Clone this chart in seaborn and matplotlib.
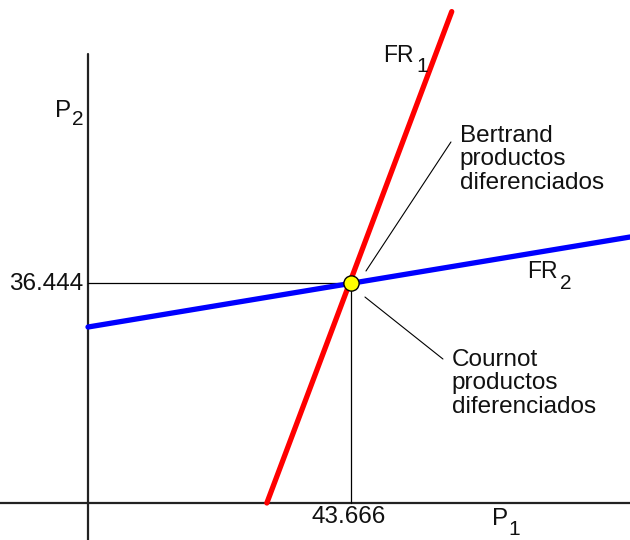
import matplotlib
matplotlib.use("Agg")
import matplotlib.pyplot as plt
import seaborn as sns
import pandas as pd

# reaction functions (P1, P2) end points
fr1_p1 = [29.7, 60.4]
fr1_p2 = [0.0, 81.4]
fr2_p1 = [0.0, 90.0]
fr2_p2 = [29.15, 44.06]

# equilibrium
p1_eq = 43.666
p2_eq = 36.444

sns.set_style("white")
plt.rcParams['font.family'] = ['Liberation Sans', 'DejaVu Sans']

fig = plt.figure(figsize=(6.3, 5.4), dpi=100)
ax = fig.add_axes([0, 0, 1, 1])
ax.set_xlim(-14.61, 90.0)
ax.set_ylim(-6.13, 83.32)
ax.axis('off')

# axes drawn as lines
ax.plot([0, 0], [-6.13, 74.4], color='#222222', lw=1.6)
ax.plot([-14.61, 90.0], [0, 0], color='#222222', lw=1.6)

# guide lines to the equilibrium
ax.plot([0, p1_eq], [p2_eq, p2_eq], color='black', lw=0.9)
ax.plot([p1_eq, p1_eq], [0, p2_eq], color='black', lw=0.9)

df1 = pd.DataFrame({"P1": fr1_p1, "P2": fr1_p2})
df2 = pd.DataFrame({"P1": fr2_p1, "P2": fr2_p2})
sns.lineplot(data=df1, x="P1", y="P2", color='#ff0000', lw=3.8, ax=ax,
             sort=False, estimator=None)
sns.lineplot(data=df2, x="P1", y="P2", color='#0000ff', lw=3.8, ax=ax,
             sort=False, estimator=None)

# annotation pointers
ax.plot([60.27, 46.16], [59.80, 38.43], color='black', lw=0.8)
ax.plot([45.99, 58.94], [34.12, 23.85], color='black', lw=0.8)

sns.scatterplot(x=[p1_eq], y=[p2_eq], s=120, color='#ffff00',
                edgecolor='black', linewidth=1, zorder=5, ax=ax)

fs = 17.5
ink = '#111111'


def label(x, y, base, sx, sy, sub, size):
    ax.text(x, y, base, fontsize=size, ha='left', va='baseline', color=ink)
    ax.text(sx, sy, sub, fontsize=15, ha='left', va='baseline', color=ink)


# px -> data: x = (px - 88) * 0.16603, y = (503 - py) * 0.16565
label(-5.48, 63.9, 'P', -2.6, 62.6, '2', fs)
label(67.08, -3.64, 'P', 69.8, -5.3, '1', fs)
label(48.98, 73.05, 'FR', 54.5, 71.4, '1', 16.5)
label(72.89, 37.27, 'FR', 78.4, 35.5, '2', 16.5)

ax.text(-0.83, 36.3, '36.444', fontsize=fs, ha='right', va='center', color=ink)
ax.text(43.3, -0.5, '43.666', fontsize=fs, ha='center', va='top', color=ink)
ax.text(61.76, 62.6, 'Bertrand\nproductos\ndiferenciados', fontsize=fs,
        ha='left', va='top', linespacing=1.08, color=ink)
ax.text(60.43, 25.5, 'Cournot\nproductos\ndiferenciados', fontsize=fs,
        ha='left', va='top', linespacing=1.08, color=ink)

fig.savefig("out.png", dpi=100)
